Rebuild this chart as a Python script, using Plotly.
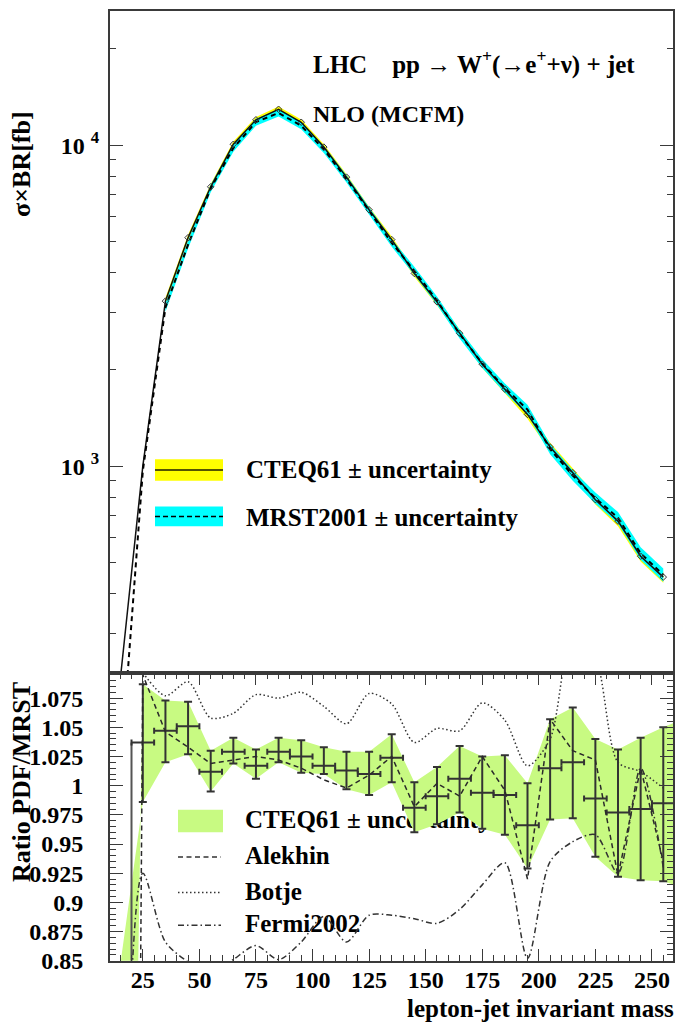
import plotly.graph_objects as go

# ---------------- data ----------------
mass = [15, 25, 35, 45, 55, 65, 75, 85, 95, 105, 115, 125, 135, 145, 155,
        165, 175, 185, 195, 205, 215, 225, 235, 245, 255]

# top panel: sigma x BR [fb]
cteq = [215, 1000, 3267, 5150, 7418, 10065, 12000, 12940, 11788, 9865, 7952,
        6292, 5079, 3983, 3250, 2595, 2077, 1736, 1449, 1147, 954, 786, 674,
        524, 451]
mrst = [110, 965, 3120, 4900, 7330, 9800, 11800, 12600, 11500, 9700, 7850,
        6230, 4960, 4060, 3280, 2580, 2090, 1750, 1500, 1130, 935, 795, 690,
        535, 458]
# relative half widths of the uncertainty bands (from 35 GeV on)
cteq_unc = [0.025, 0.022, 0.02, 0.02, 0.02, 0.02, 0.02, 0.02, 0.021, 0.022,
            0.023, 0.024, 0.025, 0.026, 0.027, 0.028, 0.03, 0.031, 0.032,
            0.034, 0.036, 0.038, 0.04]
mrst_unc = [0.03, 0.028, 0.027, 0.026, 0.025, 0.025, 0.025, 0.025, 0.026,
            0.027, 0.028, 0.029, 0.03, 0.031, 0.032, 0.033, 0.036, 0.037,
            0.038, 0.04, 0.042, 0.045, 0.048]

# bottom panel: ratio PDF / MRST
ratio_x = mass[1:]
ratio = [1.037, 1.047, 1.051, 1.012, 1.029, 1.017, 1.029, 1.025, 1.017, 1.013,
         1.010, 1.024, 0.981, 0.991, 1.006, 0.994, 0.992, 0.966, 1.015, 1.020,
         0.989, 0.977, 0.980, 0.985]
ratio_hi = [1.087, 1.073, 1.072, 1.030, 1.041, 1.031, 1.041, 1.039, 1.033,
            1.029, 1.029, 1.044, 1.003, 1.016, 1.034, 1.025, 1.026, 1.002,
            1.057, 1.067, 1.040, 1.031, 1.041, 1.050]
ratio_lo = [0.986, 1.020, 1.027, 0.995, 1.019, 1.006, 1.020, 1.011, 1.010,
            0.997, 0.992, 1.003, 0.960, 0.967, 0.977, 0.963, 0.958, 0.929,
            0.971, 0.972, 0.939, 0.922, 0.919, 0.918]
ratio_first_bin = 0.0   # empty bin below 20 GeV

band_x = mass + [265]
band_hi = [-0.098] + ratio_hi + [1.058]
band_lo = [0.846] + ratio_lo + [0.912]

alekhin = [-1.5, 1.095, 1.046, 1.033, 1.019, 1.022, 1.025, 1.022, 1.015, 1.005,
           0.998, 1.009, 1.025, 0.982, 1.002, 0.991, 1.025, 0.996, 0.920,
           1.057, 1.030, 1.022, 0.923, 1.015, 0.935]
botje_x = mass[1:]
botje = [1.097, 1.077, 1.089, 1.058, 1.062, 1.078, 1.075, 1.080, 1.068, 1.053,
         1.079, 1.070, 1.037, 1.049, 1.047, 1.071, 1.056, 1.017, 1.040, 1.13,
         1.11, 1.02, 1.012, 0.998]
fermi = [0.45, 0.925, 0.866, 0.849, 0.838, 0.851, 0.863, 0.851, 0.866, 0.888,
         0.866, 0.889, 0.889, 0.886, 0.882, 0.894, 0.915, 0.934, 0.852, 0.935,
         0.952, 0.958, 0.925, 1.015, 0.93]

x_ticks = [25, 50, 75, 100, 125, 150, 175, 200, 225, 250]
ratio_ticks = [0.85, 0.875, 0.9, 0.925, 0.95, 0.975, 1.0, 1.025, 1.05, 1.075]
ratio_ticktext = ["0.85", "0.875", "0.9", "0.925", "0.95", "0.975", "1",
                  "1.025", "1.05", "1.075"]
log_ticks = [1000, 10000]
log_ticktext = ["10 <sup>3</sup>", "10 <sup>4</sup>"]
log_minor = [300, 400, 500, 600, 700, 800, 900, 2000, 3000, 4000, 5000, 6000,
             7000, 8000, 9000, 20000]

# ---------------- layout helpers ----------------
W, H = 678, 1031
def px(x):
    return x / W
def py(y):
    return 1 - y / H

FONT = "Liberation Serif, Times New Roman, serif"
FRAME = "#3a3a3a"
X0, X1 = 110, 673
Y_TOP, Y_MID, Y_BOT = 11, 682, 973
XRANGE = [10.5, 259.3]

fig = go.Figure()

# ---------------- top panel ----------------
bx = mass[2:]
c_hi = [v * (1 + u) for v, u in zip(cteq[2:], cteq_unc)]
c_lo = [v * (1 - u) for v, u in zip(cteq[2:], cteq_unc)]
m_hi = [v * (1 + u) for v, u in zip(mrst[2:], mrst_unc)]
m_lo = [v * (1 - u) for v, u in zip(mrst[2:], mrst_unc)]

fig.add_trace(go.Scatter(x=bx + bx[::-1], y=c_hi + c_lo[::-1], fill="toself",
                         fillcolor="#ffff00", line=dict(width=0),
                         mode="lines", hoverinfo="skip", xaxis="x", yaxis="y"))
fig.add_trace(go.Scatter(x=bx + bx[::-1], y=m_hi + m_lo[::-1], fill="toself",
                         fillcolor="#00ffff", line=dict(width=0),
                         mode="lines", hoverinfo="skip", xaxis="x", yaxis="y"))
fig.add_trace(go.Scatter(x=mass, y=cteq, mode="lines",
                         line=dict(color="#111111", width=1.5),
                         xaxis="x", yaxis="y"))
fig.add_trace(go.Scatter(x=mass, y=mrst, mode="lines",
                         line=dict(color="#000000", width=2, dash="5px,4px"),
                         xaxis="x", yaxis="y"))
fig.add_trace(go.Scatter(x=bx, y=cteq[2:], mode="markers",
                         marker=dict(symbol="diamond-open", size=5,
                                     color="#333333", line=dict(width=1)),
                         xaxis="x", yaxis="y"))

# ---------------- bottom panel ----------------
# legend texts drawn underneath the data
leg_font = dict(family=FONT, size=25, color="#000000", weight="bold")
def dx(p):
    return XRANGE[0] + (p - X0) / (X1 - X0) * (XRANGE[1] - XRANGE[0])
def dy(p):
    return 0.85 + (Y_BOT - p) / (Y_BOT - Y_MID) * (1.0962 - 0.85)
fig.add_trace(go.Scatter(
    x=[dx(245)] * 4, y=[dy(832), dy(869), dy(905), dy(938)],
    text=["CTEQ61 \u00b1 uncertainty", "Alekhin", "Botje", "Fermi2002"],
    mode="text", textposition="middle right", textfont=leg_font,
    xaxis="x2", yaxis="y2", hoverinfo="skip"))

fig.add_trace(go.Scatter(x=band_x + band_x[::-1], y=band_hi + band_lo[::-1],
                         fill="toself", fillcolor="#c8fa82",
                         line=dict(width=0), mode="lines", hoverinfo="skip",
                         xaxis="x2", yaxis="y2"))
fig.add_trace(go.Scatter(
    x=[ratio_x[0] - 5, ratio_x[0] - 5], y=[ratio[0], ratio_first_bin],
    mode="lines", line=dict(color="#555555", width=2),
    xaxis="x2", yaxis="y2"))
fig.add_trace(go.Scatter(
    x=ratio_x, y=ratio, mode="markers", marker=dict(size=1, color="#333333"),
    error_y=dict(type="data", symmetric=False,
                 array=[h - r for h, r in zip(ratio_hi, ratio)],
                 arrayminus=[r - l for r, l in zip(ratio, ratio_lo)],
                 color="#333333", thickness=2, width=4),
    error_x=dict(type="constant", value=5, color="#333333", thickness=2,
                 width=3),
    xaxis="x2", yaxis="y2"))
fig.add_trace(go.Scatter(x=mass, y=alekhin, mode="lines",
                         line=dict(color="#2a2a2a", width=1.5,
                                   dash="5px,3.5px"),
                         xaxis="x2", yaxis="y2"))
fig.add_trace(go.Scatter(x=botje_x, y=botje, mode="lines",
                         line=dict(color="#333333", width=1.5,
                                   dash="1.5px,2.5px", shape="spline",
                                   smoothing=0.8),
                         xaxis="x2", yaxis="y2"))
fig.add_trace(go.Scatter(x=mass, y=fermi, mode="lines",
                         line=dict(color="#333333", width=1.5,
                                   dash="6px,3px,1.5px,3px", shape="spline",
                                   smoothing=0.8),
                         xaxis="x2", yaxis="y2"))

tick_font = dict(family=FONT, size=24, color="#000000", weight="bold")

fig.update_layout(
    width=W, height=H, margin=dict(l=0, r=0, t=0, b=0),
    paper_bgcolor="white", plot_bgcolor="white", showlegend=False,
    xaxis=dict(domain=[px(X0), px(X1)], range=XRANGE, anchor="y",
               showticklabels=False, ticks="", showgrid=False, zeroline=False,
               showline=True, mirror=True, linecolor=FRAME, linewidth=2),
    yaxis=dict(domain=[py(Y_MID), py(Y_TOP)], type="log",
               range=[2.3541, 4.4185], anchor="x",
               tickvals=log_ticks, ticktext=log_ticktext, tickfont=tick_font,
               ticks="inside", ticklen=13, tickwidth=1.2, tickcolor=FRAME,
               mirror="allticks", showline=True, linecolor=FRAME, linewidth=2,
               showgrid=False, zeroline=False, ticklabelstandoff=4,
               minor=dict(tickvals=log_minor, ticks="inside", ticklen=6,
                          tickwidth=1.2, tickcolor=FRAME, showgrid=False)),
    xaxis2=dict(domain=[px(X0), px(X1)], range=XRANGE, anchor="y2",
                tickvals=x_ticks, tickfont=tick_font,
                ticks="inside", ticklen=12, tickwidth=1.2, tickcolor=FRAME,
                mirror="allticks", showline=True, linecolor=FRAME,
                linewidth=2, showgrid=False, zeroline=False,
                ticklabelstandoff=-4,
                minor=dict(dtick=5, tick0=0, ticks="inside", ticklen=6,
                           tickwidth=1.2, tickcolor=FRAME, showgrid=False)),
    yaxis2=dict(domain=[py(Y_BOT), py(Y_MID)], range=[0.85, 1.0962],
                anchor="x2", tickvals=ratio_ticks, ticktext=ratio_ticktext,
                tickfont=tick_font, ticks="inside", ticklen=13,
                tickwidth=1.2, tickcolor=FRAME, mirror="allticks",
                showline=True, linecolor=FRAME, linewidth=2, showgrid=False,
                zeroline=False, ticklabelstandoff=20,
                minor=dict(dtick=0.005, tick0=0.85, ticks="inside",
                           ticklen=6, tickwidth=1.2, tickcolor=FRAME,
                           showgrid=False)),
)

title_font = dict(family=FONT, size=25, color="#000000", weight="bold")
ann = [
    dict(text="LHC\u00a0\u00a0\u00a0\u00a0pp \u2192 W<sup>+</sup>(\u2192e<sup>+</sup>+\u03bd) + jet",
         x=px(312), y=py(63), xanchor="left", yanchor="middle"),
    dict(text="NLO (MCFM)", x=px(312), y=py(115), xanchor="left",
         yanchor="middle", font=dict(family=FONT, size=24, color="#000000",
                                     weight="bold")),
    dict(text="CTEQ61 \u00b1 uncertainty", x=px(245), y=py(475),
         xanchor="left", yanchor="middle"),
    dict(text="MRST2001 \u00b1 uncertainty", x=px(245), y=py(524),
         xanchor="left", yanchor="middle"),
    dict(text="\u03c3\u00d7BR[fb]", x=px(22), y=py(166), textangle=-90,
         xanchor="center", yanchor="middle",
         font=dict(family=FONT, size=26, color="#000000", weight="bold")),
    dict(text="Ratio PDF/MRST", x=px(21), y=py(792), textangle=-90,
         xanchor="center", yanchor="middle",
         font=dict(family=FONT, size=26, color="#000000", weight="bold")),
    dict(text="lepton-jet invariant mass", x=px(675), y=py(1036),
         xanchor="right", yanchor="bottom"),
]
for a in ann:
    a.setdefault("font", title_font)
    a.update(xref="paper", yref="paper", showarrow=False, borderpad=0)
fig.update_layout(annotations=ann)

shapes = [
    dict(type="rect", x0=px(155), x1=px(223), y0=py(465), y1=py(487),
         fillcolor="#ffff00", line=dict(width=0)),
    dict(type="line", x0=px(155), x1=px(223), y0=py(476), y1=py(476),
         line=dict(color="#555500", width=2)),
    dict(type="rect", x0=px(155), x1=px(223), y0=py(513), y1=py(533),
         fillcolor="#00ffff", line=dict(width=0)),
    dict(type="line", x0=px(155), x1=px(223), y0=py(523), y1=py(523),
         line=dict(color="#000000", width=1.5, dash="5px,3px")),
    dict(type="rect", x0=px(178), x1=px(223), y0=py(820), y1=py(843),
         fillcolor="#c8fa82", line=dict(width=0), layer="below"),
    dict(type="line", x0=px(178), x1=px(221), y0=py(868), y1=py(868),
         line=dict(color="#333333", width=1.5, dash="5px,3.5px")),
    dict(type="line", x0=px(178), x1=px(221), y0=py(904), y1=py(904),
         line=dict(color="#333333", width=1.5, dash="1.5px,2.5px")),
    dict(type="line", x0=px(178), x1=px(221), y0=py(937), y1=py(937),
         line=dict(color="#333333", width=1.5, dash="6px,3px,1.5px,3px")),
]
for s in shapes:
    s.update(xref="paper", yref="paper")
fig.update_layout(shapes=shapes)

fig.write_html("out.html")
